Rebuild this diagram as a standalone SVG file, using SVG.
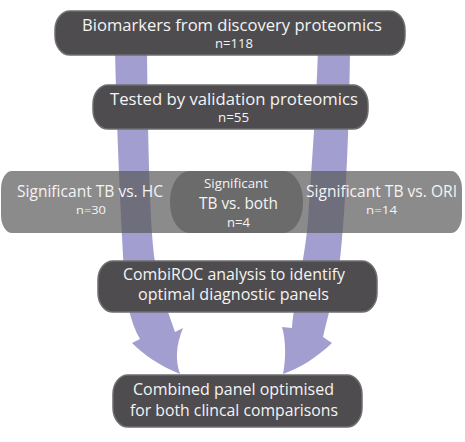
<svg xmlns="http://www.w3.org/2000/svg" width="465" height="442" viewBox="0 0 465 442">
<style>
.box{fill:#4e4c4f;stroke:#6e6e70;stroke-width:1.5}
.arrow{fill:#a29ed0}
.band{fill:#5a5a5a;fill-opacity:0.7}
.oval{fill:#6b6b6c}
text{font-family:"Open Sans","Noto Sans","Liberation Sans",sans-serif;fill:#f4f4f4;text-anchor:middle}
.big{font-size:16.5px}
.mid{font-size:16px}
.sm{font-size:12px}
.side{font-size:15.5px}
.sn{font-size:11px}
</style>
<rect width="465" height="442" fill="#ffffff"/>
<g id="connectors">
<path class="arrow" d="M115,50 L147,50 C148,150 150,230 155,262 C158,282 163,298 168,312 L175,332 L183,328 C176,345 175,360 180,374 C160,366 144,355 132,343 L140,339 C130,322 126,300 124,270 C121,220 117,140 115,50 Z"/>
<path class="arrow" d="M318,50 L350,50 C349,130 346,200 341,250 C338,280 332,300 323,337 L332,343 C316,358 300,368 283,374 C286,360 286,340 282,327 L292,328 C294,300 305,260 308,220 C312,160 316,110 318,50 Z"/>
</g>
<g id="node-discovery">
<rect class="box" x="55" y="11" width="350" height="44" rx="15" ry="19"/>
<text class="big" x="232" y="31" textLength="300" lengthAdjust="spacingAndGlyphs">Biomarkers from discovery proteomics</text>
<text class="sm" x="234" y="48" textLength="38" lengthAdjust="spacingAndGlyphs">n=118</text>
</g>
<g id="node-validation">
<rect class="box" x="93" y="85" width="275" height="44" rx="15" ry="19"/>
<text class="big" x="234" y="105" textLength="248" lengthAdjust="spacingAndGlyphs">Tested by validation proteomics</text>
<text class="sm" x="233.5" y="122" textLength="31" lengthAdjust="spacingAndGlyphs">n=55</text>
</g>
<g id="node-significant">
<rect class="band" x="1" y="171" width="461" height="62" rx="11" ry="18"/>
<text class="side" x="90" y="197" textLength="146" lengthAdjust="spacingAndGlyphs">Significant TB vs. HC</text>
<text class="sn" x="91" y="214" textLength="30" lengthAdjust="spacingAndGlyphs">n=30</text>
<text class="side" x="381.5" y="197" textLength="151" lengthAdjust="spacingAndGlyphs">Significant TB vs. ORI</text>
<text class="sn" x="381.5" y="214" textLength="31" lengthAdjust="spacingAndGlyphs">n=14</text>
</g>
<g id="node-both">
<rect class="oval" x="170" y="171" width="133" height="62" rx="20" ry="30"/>
<text x="236" y="188" font-size="12.5" textLength="64" lengthAdjust="spacingAndGlyphs">Significant</text>
<text class="mid" x="238.5" y="209" textLength="79" lengthAdjust="spacingAndGlyphs">TB vs. both</text>
<text class="sm" x="238.5" y="227" textLength="23" lengthAdjust="spacingAndGlyphs">n=4</text>
</g>
<g id="node-combiroc">
<rect class="box" x="98" y="261" width="279" height="51" rx="15" ry="19"/>
<text class="mid" x="234" y="280" textLength="222" lengthAdjust="spacingAndGlyphs">CombiROC analysis to identify</text>
<text class="mid" x="233.5" y="300" textLength="191" lengthAdjust="spacingAndGlyphs">optimal diagnostic panels</text>
</g>
<g id="node-combined">
<rect class="box" x="113" y="375" width="249" height="52" rx="15" ry="19"/>
<text class="mid" x="233.5" y="395" textLength="201" lengthAdjust="spacingAndGlyphs">Combined panel optimised</text>
<text class="mid" x="234" y="416" textLength="208" lengthAdjust="spacingAndGlyphs">for both clincal comparisons</text>
</g>
</svg>
